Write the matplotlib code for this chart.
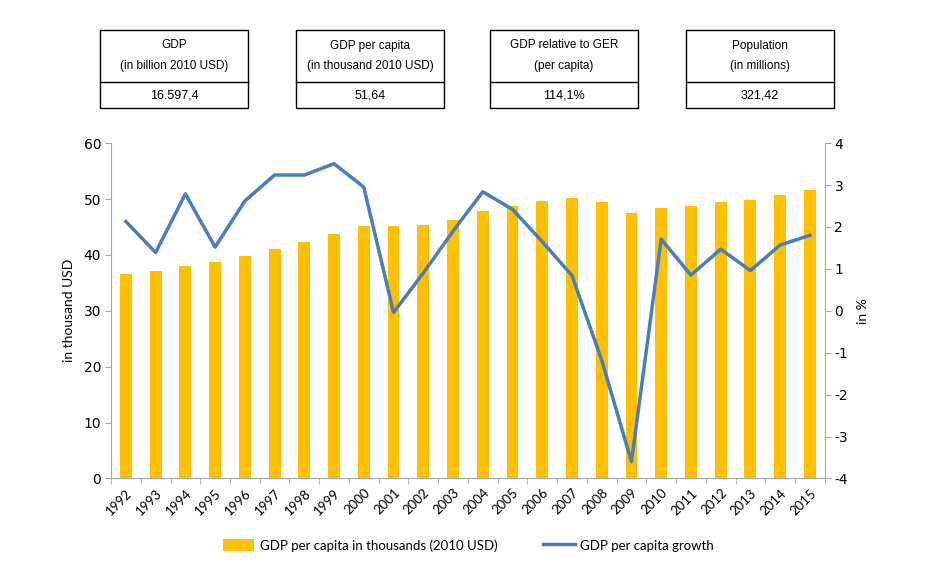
import matplotlib.pyplot as plt
import numpy as np

years = [str(y) for y in range(1992, 2016)]
gdp_pc = [36.5, 37.1, 38.0, 38.7, 39.8, 41.1, 42.3, 43.8, 45.1, 45.1, 45.4, 46.3,
          47.8, 48.8, 49.7, 50.1, 49.5, 47.5, 48.4, 48.8, 49.5, 49.9, 50.7, 51.6]
growth = [2.13, 1.39, 2.79, 1.52, 2.62, 3.24, 3.24, 3.51, 2.95, -0.04, 0.90, 1.90,
          2.84, 2.42, 1.65, 0.84, -1.18, -3.60, 1.71, 0.85, 1.47, 0.96, 1.57, 1.80]

box_titles = ['GDP\n(in billion 2010 USD)', 'GDP per capita\n(in thousand 2010 USD)',
              'GDP relative to GER\n(per capita)', 'Population\n(in millions)']
box_values = ['16.597,4', '51,64', '114,1%', '321,42']

bar_color = '#FFC000'
line_color = '#4A7EBB'
grey = '#A6A6A6'

plt.rcParams['axes.unicode_minus'] = False

fig = plt.figure(figsize=(9.33, 5.82), dpi=100)
ax = fig.add_axes([0.119, 0.178, 0.765, 0.576])
ax2 = ax.twinx()

x = np.arange(len(years))
ax.bar(x, gdp_pc, width=0.4, color=bar_color, label='GDP per capita in thousands (2010 USD)', zorder=2)
ax2.plot(x, growth, color=line_color, lw=2.5, label='GDP per capita growth', zorder=3)

ax.set_xlim(-0.5, len(years) - 0.5)
ax.set_ylim(0, 60)
ax.set_yticks(range(0, 61, 10))
ax2.set_ylim(-4, 4)
ax2.set_yticks(range(-4, 5))

ax.set_xticks(x)
ax.set_xticklabels(years, rotation=45, ha='right', rotation_mode='anchor', fontsize=9.5, family='Lato')
ax.set_xticks(np.arange(-0.5, len(years), 1), minor=True)
ax.tick_params(axis='x', which='major', length=0, pad=6)
ax.tick_params(axis='x', which='minor', length=4, color=grey)
ax.tick_params(axis='y', length=4, color=grey, labelsize=10, pad=3)
ax2.tick_params(axis='y', length=4, color=grey, labelsize=10, pad=3)

for a in (ax, ax2):
    a.spines['top'].set_visible(False)
    for s in ('left', 'right', 'bottom'):
        a.spines[s].set_color(grey)
ax.spines['right'].set_visible(False)
ax2.spines['left'].set_visible(False)
ax2.spines['bottom'].set_visible(False)

ax.set_ylabel('in thousand USD', fontsize=10, family='Lato', labelpad=6)
ax2.set_ylabel('in %', fontsize=10, family='Lato', labelpad=6)

h1, l1 = ax.get_legend_handles_labels()
h2, l2 = ax2.get_legend_handles_labels()
fig.legend(h1 + h2, l1 + l2, loc='center', bbox_to_anchor=(0.502, 0.063), ncol=2,
           frameon=False, prop={'family': 'Lato', 'size': 9.5}, columnspacing=3.5,
           handlelength=2.4, handleheight=1.0, handletextpad=0.4)

# summary boxes on top
box_left = [100, 296, 490, 686]
box_w = 148
for left, title, val in zip(box_left, box_titles, box_values):
    x0 = left / 933
    w = box_w / 933
    top = 1 - 30 / 582
    mid = 1 - 82 / 582
    bot = 1 - 108 / 582
    fig.patches.append(plt.Rectangle((x0, bot), w, top - bot, transform=fig.transFigure,
                                     fill=False, ec='black', lw=1.0))
    fig.lines.append(plt.Line2D([x0, x0 + w], [mid, mid], transform=fig.transFigure,
                                color='black', lw=1.0))
    fig.text(x0 + w / 2, (top + mid) / 2, title, ha='center', va='center', fontsize=8.5,
             family=['Liberation Sans Narrow', 'Liberation Sans'], linespacing=2.0)
    fig.text(x0 + w / 2, (mid + bot) / 2, val, ha='center', va='center', fontsize=9,
             family=['Liberation Sans Narrow', 'Liberation Sans'])

fig.savefig('out.png', dpi=100)
